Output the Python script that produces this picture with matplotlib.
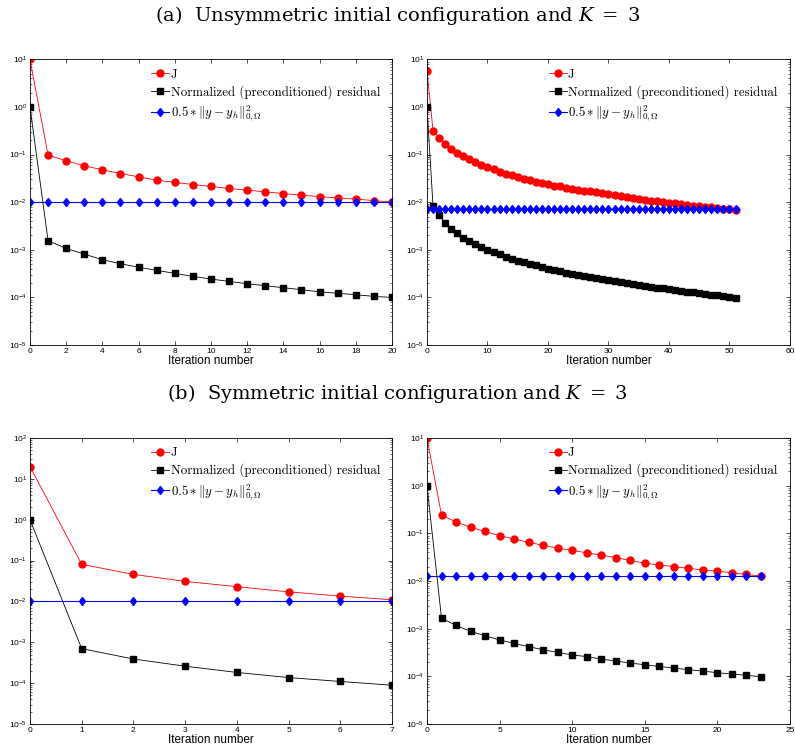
import numpy as np
import matplotlib
matplotlib.use("Agg")
import matplotlib.pyplot as plt
from matplotlib.font_manager import FontProperties
from matplotlib.ticker import LogLocator, NullFormatter

plt.rcParams.update({
    'font.family': ['Liberation Sans', 'DejaVu Sans'],
    'xtick.direction': 'in',
    'ytick.direction': 'in',
    'xtick.top': True,
    'ytick.right': True,
    'xtick.labelsize': 6,
    'ytick.labelsize': 6,
    'axes.linewidth': 0.6,
})

# (a) left: unsymmetric, 20 iterations
a1_iter = list(range(21))
a1_J = [10.0, 0.097, 0.074, 0.058, 0.048, 0.040, 0.034, 0.029, 0.026, 0.0235,
        0.0214, 0.0194, 0.0179, 0.0165, 0.0152, 0.0140, 0.0131, 0.0123,
        0.0116, 0.0108, 0.0100]
a1_res = [1.0, 0.00155, 0.00107, 0.00081, 0.00062, 0.00051, 0.00043, 0.00037,
          0.00032, 0.000276, 0.000243, 0.000217, 0.000194, 0.000176, 0.000160,
          0.000145, 0.000131, 0.000122, 0.000114, 0.000105, 0.000100]
a1_err = [0.0099] * 21

# (a) right: unsymmetric, 51 iterations
a2_iter = list(range(52))
a2_J = [5.7, 0.32, 0.225, 0.168, 0.132, 0.108, 0.094, 0.080, 0.070, 0.0617,
        0.055, 0.049, 0.0437, 0.0398, 0.0366, 0.033, 0.031, 0.0287, 0.0268,
        0.0251, 0.024, 0.0224, 0.0214, 0.020, 0.019, 0.018, 0.0173, 0.0168,
        0.0162, 0.0157, 0.0150, 0.0143, 0.0134, 0.0128, 0.0124, 0.0118,
        0.0112, 0.0108, 0.0105, 0.0102, 0.0098, 0.0095, 0.0091, 0.0088,
        0.0085, 0.0082, 0.0080, 0.0078, 0.0076, 0.0073, 0.0071, 0.0070]
a2_res = [1.0, 0.0082, 0.0053, 0.0037, 0.0028, 0.0022, 0.0018, 0.00155,
          0.00134, 0.00116, 0.00100, 0.00090, 0.00081, 0.00072, 0.00065,
          0.00059, 0.00055, 0.00050, 0.00047, 0.00043, 0.00040, 0.00038,
          0.00036, 0.00033, 0.00031, 0.00030, 0.00028, 0.00027, 0.00025,
          0.00024, 0.00023, 0.00022, 0.00021, 0.000199, 0.000190, 0.000181,
          0.000173, 0.000167, 0.000160, 0.000154, 0.000147, 0.000142,
          0.000136, 0.000131, 0.000127, 0.000121, 0.000117, 0.000114,
          0.000110, 0.000107, 0.000102, 0.000098]
a2_err = [0.0071] * 52

# (b) left: symmetric, 7 iterations
b1_iter = list(range(8))
b1_J = [20.0, 0.081, 0.046, 0.031, 0.023, 0.0172, 0.0135, 0.011]
b1_res = [1.0, 0.0007, 0.00039, 0.00026, 0.000183, 0.000137, 0.000110, 0.000089]
b1_err = [0.0100] * 8

# (b) right: symmetric, 23 iterations
b2_iter = list(range(24))
b2_J = [10.0, 0.24, 0.174, 0.134, 0.110, 0.089, 0.076, 0.065, 0.056, 0.049,
        0.044, 0.039, 0.035, 0.031, 0.027, 0.0236, 0.0218, 0.0200, 0.0185,
        0.0170, 0.0161, 0.0149, 0.0137, 0.0127]
b2_res = [1.0, 0.00166, 0.00117, 0.00088, 0.00071, 0.00058, 0.00049, 0.00042,
          0.00036, 0.00032, 0.00028, 0.00026, 0.00023, 0.00021, 0.00019,
          0.000175, 0.000161, 0.000149, 0.000138, 0.000129, 0.000119,
          0.000112, 0.000105, 0.000098]
b2_err = [0.0126] * 24

panels = [
    (a1_iter, a1_J, a1_res, a1_err, (0, 20), list(range(0, 21, 2)), (1e-5, 1e1)),
    (a2_iter, a2_J, a2_res, a2_err, (0, 60), list(range(0, 61, 10)), (1e-5, 1e1)),
    (b1_iter, b1_J, b1_res, b1_err, (0, 7), list(range(0, 8)), (1e-5, 1e2)),
    (b2_iter, b2_J, b2_res, b2_err, (0, 25), list(range(0, 26, 5)), (1e-5, 1e1)),
]

boxes = [
    [0.0377, 0.5418, 0.4553, 0.3794],
    [0.5371, 0.5418, 0.4566, 0.3794],
    [0.0377, 0.0385, 0.4553, 0.3798],
    [0.5371, 0.0385, 0.4566, 0.3798],
]

fig = plt.figure(figsize=(7.95, 7.53), dpi=100)

leg_prop = FontProperties(family='cmr10', size=9.3, math_fontfamily='cm')
err_label = r'$0.5 * \|y - y_h\|^2_{0,\Omega}$'

for (it, J, res, err, xl, xt, yl), box in zip(panels, boxes):
    ax = fig.add_axes(box)
    ax.semilogy(it, J, '-', color='red', lw=0.6, marker='o', ms=5,
                mfc='red', mec='red', label='J')
    ax.semilogy(it, res, '-', color='black', lw=0.6, marker='s', ms=3.8,
                mfc='black', mec='black',
                label='Normalized (preconditioned) residual')
    ax.semilogy(it, err, '-', color='blue', lw=0.8, marker='d', ms=4.5,
                mfc='blue', mec='blue', label=err_label)
    ax.set_xlim(*xl)
    ax.set_ylim(*yl)
    ax.set_xticks(xt)
    ax.yaxis.set_major_locator(LogLocator(base=10, numticks=20))
    ax.yaxis.set_minor_locator(LogLocator(base=10, subs=np.arange(2, 10), numticks=20))
    ax.yaxis.set_minor_formatter(NullFormatter())
    ax.tick_params(which='major', length=3, width=0.5, pad=2)
    ax.tick_params(which='minor', length=1.5, width=0.4)
    ax.set_xlabel('Iteration number', fontsize=8.5, labelpad=0)
    ax.legend(loc='upper left', bbox_to_anchor=(0.31, 1.0), frameon=False,
              prop=leg_prop, handlelength=1.4, handletextpad=0.1,
              borderaxespad=0.3, labelspacing=0.35, numpoints=1)

title_font = dict(family='DejaVu Serif', fontsize=14, math_fontfamily='dejavuserif')
fig.text(0.5, 0.980, r'(a)  Unsymmetric initial configuration and $K\;=\;3$',
         ha='center', va='center', **title_font)
fig.text(0.5, 0.478, r'(b)  Symmetric initial configuration and $K\;=\;3$',
         ha='center', va='center', **title_font)

fig.savefig('out.png', dpi=100)
